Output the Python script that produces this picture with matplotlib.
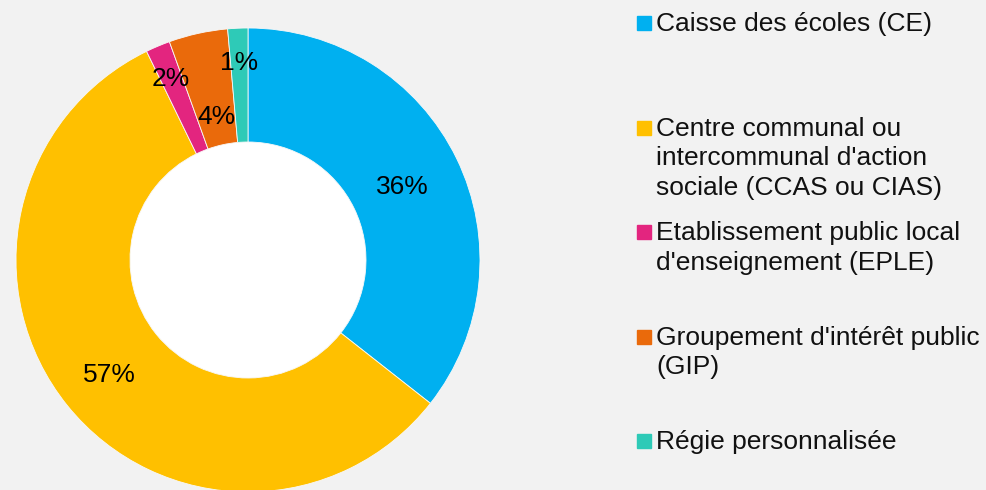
import numpy as np
import matplotlib
matplotlib.use("Agg")
import matplotlib.pyplot as plt

plt.rcParams['font.family'] = ['Liberation Sans', 'DejaVu Sans']

# data
categories = ["Caisse des écoles (CE)",
              "Centre communal ou\nintercommunal d'action\nsociale (CCAS ou CIAS)",
              "Etablissement public local\nd'enseignement (EPLE)",
              "Groupement d'intérêt public\n(GIP)",
              "Régie personnalisée"]
shares = [35.6, 57.2, 1.7, 4.1, 1.4]
colors = ['#00b0f0', '#ffc000', '#e3257f', '#ea6a0b', '#2ecab7']
label_r = [0.74, 0.77, 0.86, 0.64, 0.86]   # where each % label sits (fraction of radius)

W, H = 986, 490
fig = plt.figure(figsize=(W / 100, H / 100), dpi=100)
fig.patch.set_facecolor('#f2f2f2')

cx, cy, R = 248, H - 260, 232
ax = fig.add_axes([(cx - R) / W, (cy - R) / H, 2 * R / W, 2 * R / H])
ax.set_facecolor('none')
hole = 118 / R

wedges, _ = ax.pie(shares, colors=colors, startangle=90, counterclock=False,
                   radius=1, wedgeprops=dict(width=1 - hole, edgecolor='#f8f8f8', linewidth=0.6))
for w in wedges:
    w.set_clip_on(False)
ax.add_patch(plt.Circle((0, 0), hole, color='white', zorder=0.5))

# percentage labels
for w, s, r in zip(wedges, shares, label_r):
    ang = np.deg2rad((w.theta1 + w.theta2) / 2)
    ax.text(r * np.cos(ang), r * np.sin(ang), '%.0f%%' % s,
            ha='center', va='center_baseline', fontsize=19, color='black')
ax.set_xlim(-1, 1)
ax.set_ylim(-1, 1)
ax.axis('off')

# legend
for i, (lab, c) in enumerate(zip(categories, colors)):
    ytop = 23 + i * 104.5
    fig.patches.append(plt.Rectangle((637 / W, 1 - (ytop + 7) / H), 14 / W, 14 / H,
                                     transform=fig.transFigure, color=c, figure=fig))
    fig.text(656 / W, 1 - (ytop - 11) / H, lab, ha='left', va='top', fontsize=19,
             linespacing=1.3, color='#111111')

fig.savefig('out.png', dpi=100, facecolor=fig.get_facecolor())
